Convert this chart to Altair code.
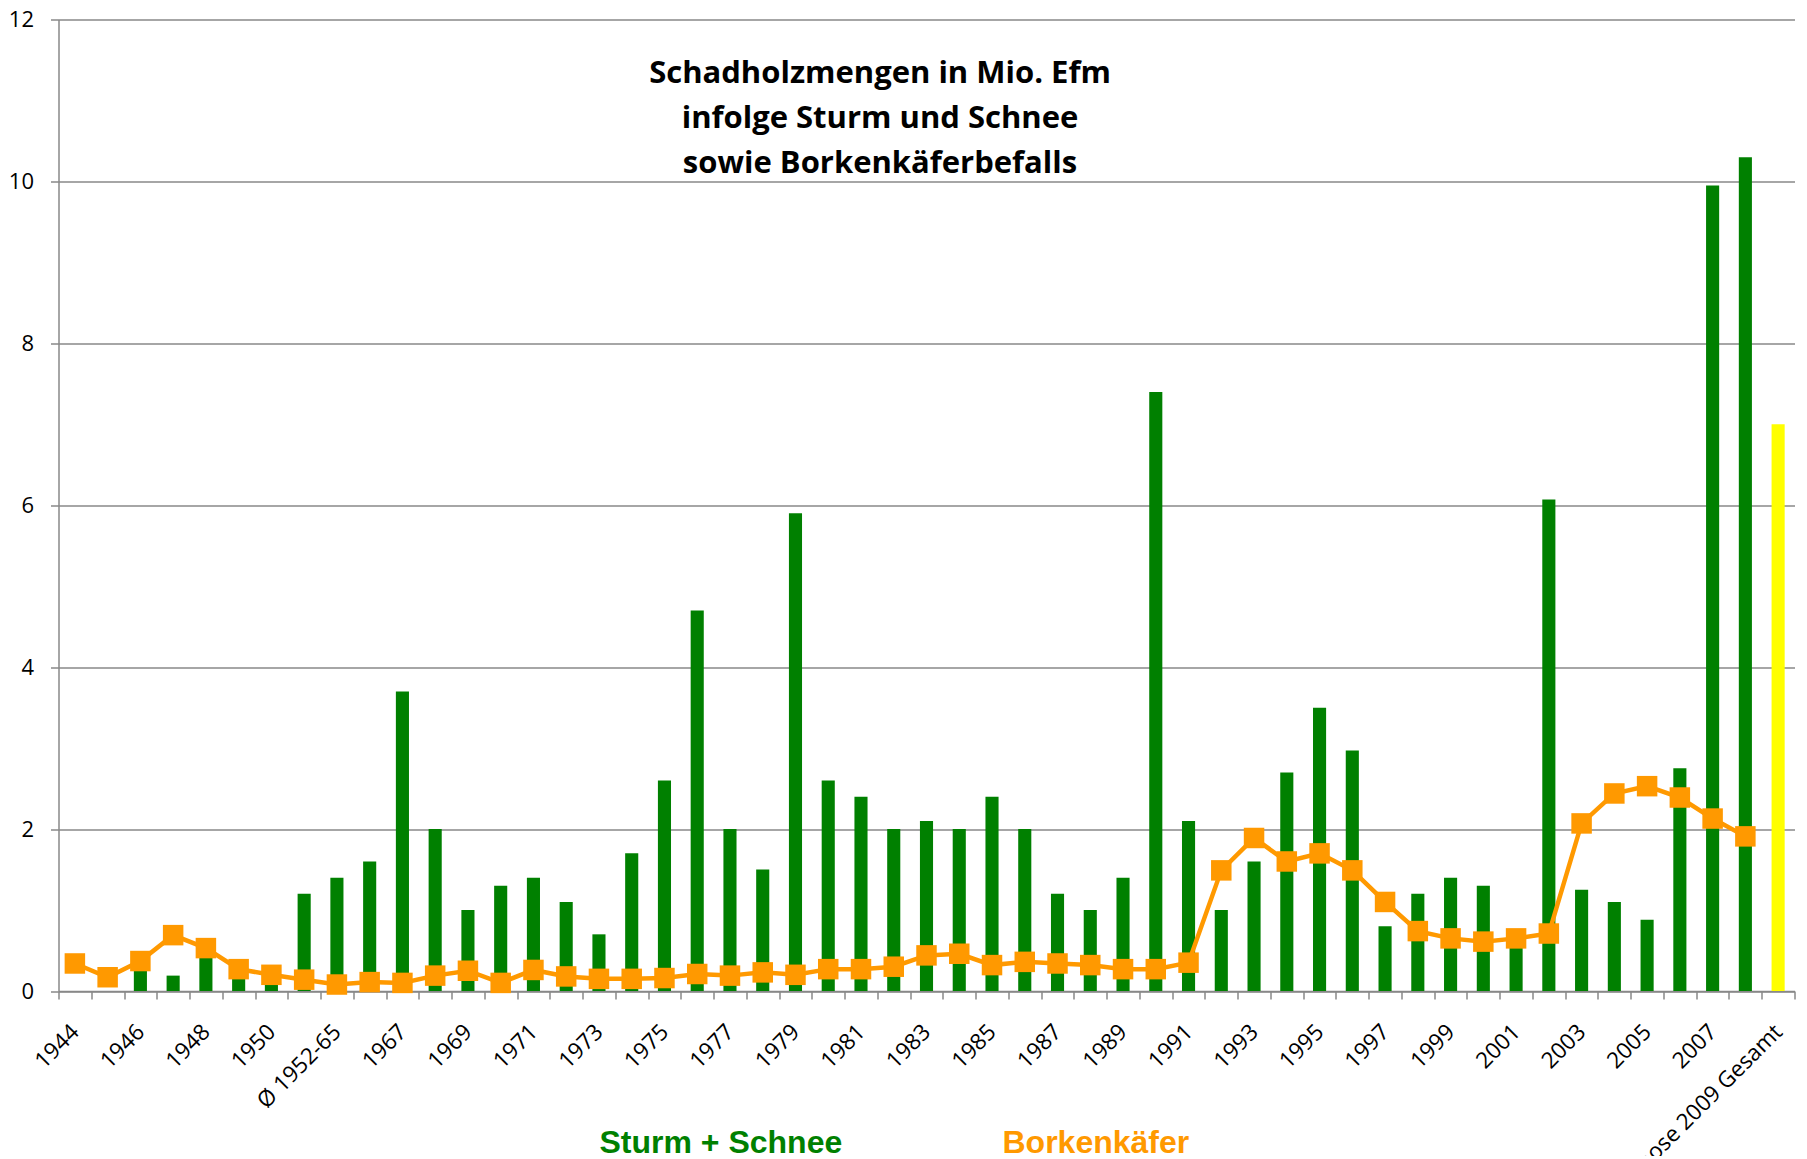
import json
import altair as alt
import pandas as pd

categories = (["1944", "1945", "1946", "1947", "1948", "1949", "1950", "1951", "Ø 1952-65"]
              + [str(y) for y in range(1966, 2009)]
              + ["Prognose 2009 Gesamt"])

sturm_schnee = [0, 0, 0.3, 0.19, 0.45, 0.2, 0.15, 1.2,
                1.4,
                1.6, 3.7, 2.0, 1.0, 1.3, 1.4, 1.1, 0.7, 1.7, 2.6,
                4.7, 2.0, 1.5, 5.9, 2.6, 2.4, 2.0, 2.1, 2.0, 2.4,
                2.0, 1.2, 1.0, 1.4, 7.4, 2.1, 1.0, 1.6, 2.7, 3.5,
                2.97, 0.8, 1.2, 1.4, 1.3, 0.6, 6.07, 1.25, 1.1, 0.88,
                2.75, 9.95, 10.3,
                7.0]

borkenkaefer = [0.34, 0.17, 0.37, 0.69, 0.53, 0.27, 0.2, 0.14,
                0.08,
                0.11, 0.10, 0.19, 0.25, 0.1, 0.26, 0.18, 0.15, 0.15, 0.16,
                0.21, 0.19, 0.23, 0.2, 0.27, 0.27, 0.3, 0.44, 0.46, 0.32,
                0.36, 0.34, 0.32, 0.27, 0.27, 0.35, 1.49, 1.89, 1.6, 1.7,
                1.49, 1.1, 0.74, 0.65, 0.61, 0.65, 0.71, 2.07, 2.44, 2.53,
                2.39, 2.13, 1.91,
                None]

series_names = ["Sturm + Schnee", "Borkenkäfer"]
series_colors = ["#008000", "#FF9900"]
prognose_color = "#FFFF00"
title_lines = ["Schadholzmengen in Mio. Efm", "infolge Sturm und Schnee", "sowie Borkenkäferbefalls"]
shown_labels = categories[::2]

df = pd.DataFrame({"cat": categories, "sturm": sturm_schnee, "kaefer": borkenkaefer})
df["s1"] = series_names[0]
df["s2"] = series_names[1]

GRAY = "#888888"
label_expr = ("indexof(" + json.dumps(shown_labels, ensure_ascii=False)
              + ", datum.value) >= 0 ? datum.value : ''")

color_scale = alt.Scale(domain=series_names, range=series_colors)
legend = alt.Legend(
    title=None, orient="none", legendX=509, legendY=1107, direction="horizontal",
    columns=2, columnPadding=128, labelOffset=0, symbolSize=1, symbolOpacity=0,
    symbolStrokeWidth=0, labelLimit=600, labelFont="Liberation Sans", labelFontSize=32,
    labelFontWeight="bold",
    labelColor={"expr": "datum.label == 'Borkenkäfer' ? '#FF9900' : '#008000'"},
)

x_enc = alt.X(
    "cat:N", sort=categories, title=None,
    scale=alt.Scale(paddingInner=0, paddingOuter=0),
    axis=alt.Axis(
        labelAngle=-45, labelAlign="right", labelBaseline="middle", labelPadding=29,
        labelFont="Open Sans", labelFontSize=22.5, labelColor="black", labelOverlap=False,
        labelLimit=1000, labelExpr=label_expr, tickBand="extent", tickSize=8,
        tickColor=GRAY, tickWidth=1.5, domainColor=GRAY, domainWidth=1.5, grid=False,
    ),
)

y_scale = alt.Scale(domain=[0, 12], nice=False)
y_axis = alt.Axis(
    values=[0, 2, 4, 6, 8, 10, 12], format="d", title=None, grid=True, gridColor=GRAY,
    gridWidth=1.5, domainColor=GRAY, domainWidth=1.5, tickColor=GRAY, tickSize=8,
    tickWidth=1.5, labelFont="Open Sans", labelFontSize=22, labelColor="black",
    labelPadding=17,
)

base = alt.Chart(df)

bars = base.mark_bar(width={"band": 0.4}).encode(
    x=x_enc,
    y=alt.Y("sturm:Q", scale=y_scale, axis=y_axis),
    color=alt.condition(
        alt.datum.cat == "Prognose 2009 Gesamt",
        alt.value(prognose_color),
        alt.Color("s1:N", scale=color_scale, legend=legend),
    ),
)

line = base.mark_line(
    strokeWidth=4.5,
    point=alt.OverlayMarkDef(shape="square", size=420, filled=True, opacity=1),
).encode(
    x=alt.X("cat:N", sort=categories),
    y=alt.Y("kaefer:Q", scale=y_scale),
    color=alt.Color("s2:N", scale=color_scale, legend=legend),
)

title = alt.Chart(alt.Data(values=[{"t": 1}])).mark_text(
    text=title_lines, font="Open Sans", fontSize=31, fontWeight="bold", color="black",
    align="center", baseline="middle", lineHeight=45,
).encode(x=alt.value(821.5), y=alt.value(54))

chart = alt.layer(bars, line, title).properties(
    width=1736, height=971.5,
    autosize=alt.AutoSizeParams(type="none"),
    padding={"left": 50.5, "top": 11.5, "right": 4, "bottom": 165},
).configure_view(strokeOpacity=0)

chart.save("out.html", embed_options={"renderer": "svg", "actions": False})
